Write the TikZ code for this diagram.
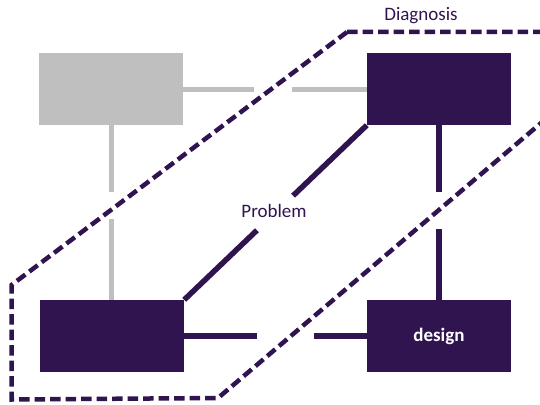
\documentclass[tikz,border=0pt]{standalone}
\usepackage{fontspec}
\setmainfont{Carlito}
\definecolor{plum}{RGB}{48,20,80}
\definecolor{ash}{RGB}{191,191,191}
\begin{document}
\begin{tikzpicture}[x=1pt, y=-1pt,
  block/.style={rectangle, minimum width=144pt, minimum height=72pt, inner sep=0pt, fill=plum},
  link/.style={line width=5.5pt, plum},
  label/.style={text=plum, font=\fontsize{19}{22}\selectfont}]
\useasboundingbox (0,0) rectangle (540,404);
\clip (0,0) rectangle (540,404);
\draw[plum, line width=4.5pt, dash pattern=on 10.5pt off 5pt] (347,32) -- (648,32) -- (218,398) -- (11.5,399.5) -- (11.5,285) -- cycle;
\node[block, fill=ash] (prior) at (111,89) {};
\node[block] (diagnosis) at (439,89) {};
\node[block] (problem) at (112,336) {};
\node[block] (design) at (439,336) {\fontsize{19}{22}\selectfont\bfseries\color{white}design};
\node[label] (diagtext) at (421,16) {Diagnosis};
\node[label] (probtext) at (274,211) {Problem};
\draw[link, ash, line width=5pt, dash pattern=on 71pt off 38pt on 200pt] (prior.east) -- (diagnosis.west);
\draw[link, ash, line width=5pt, dash pattern=on 67pt off 27pt on 200pt] (prior.south) -- (problem.north -| prior.south);
\draw[link, dash pattern=on 67pt off 37pt on 200pt] (diagnosis.south) -- (design.north);
\draw[link, dash pattern=on 102pt off 50pt on 300pt] (diagnosis.south west) -- (problem.north east);
\draw[link, dash pattern=on 73pt off 57pt on 200pt] (problem.east) -- (design.west);
\end{tikzpicture}
\end{document}
